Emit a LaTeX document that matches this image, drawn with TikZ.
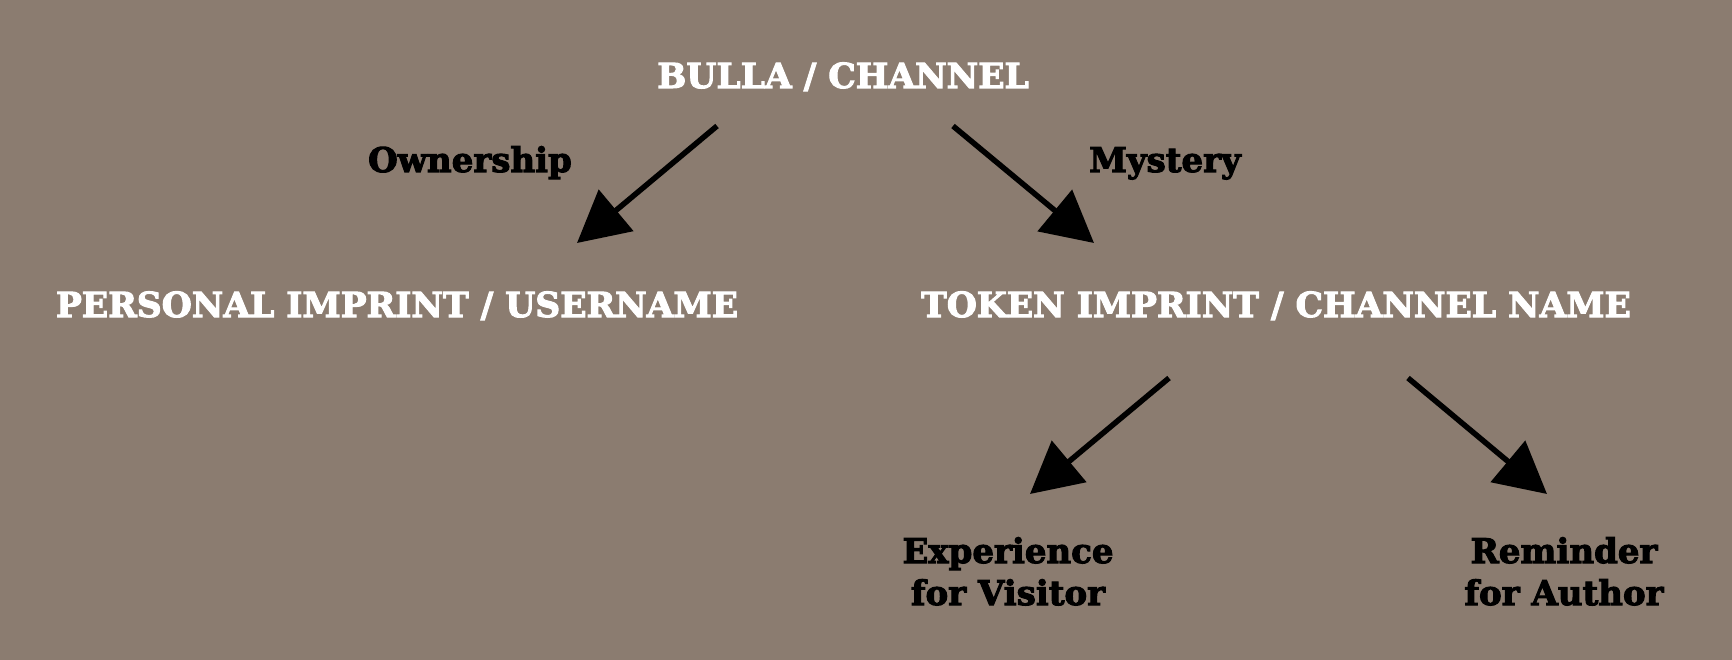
\documentclass[tikz,border=0pt]{standalone}
\usepackage{fontspec}
\setmainfont{DejaVu Serif}
\newfontfamily\heavyfont{DejaVu Serif Bold}[FakeBold=3]
\usetikzlibrary{arrows.meta}
\definecolor{bg}{RGB}{139,124,112}
\tikzset{
  whitelbl/.style={text=white, font=\fontsize{34.5}{40}\selectfont\heavyfont, inner sep=0pt, anchor=base},
  blacklbl/.style={text=black, font=\fontsize{34}{42}\selectfont\heavyfont, inner sep=0pt, anchor=base},
  blackpair/.style={text=black, font=\fontsize{34}{42}\selectfont\heavyfont, inner sep=0pt, align=center, anchor=north},
  bigarrow/.style={line width=5.5pt, -{Triangle[length=51pt,width=53pt]}},
}
\begin{document}
\begin{tikzpicture}[x=1pt,y=-1pt]
\fill[bg] (0,0) rectangle (1732,660);
\useasboundingbox (0,0) rectangle (1732,660);
\node[whitelbl] (bulla) at (843,88) {BULLA / CHANNEL};
\node[blacklbl] (own) at (470,172) {Ownership};
\node[blacklbl] (mys) at (1165,172) {Mystery};
\node[whitelbl] (pers) at (397,317) {PERSONAL IMPRINT / USERNAME};
\node[whitelbl] (tok) at (1276,317) {TOKEN IMPRINT / CHANNEL NAME};
\node[blackpair] (exp) at (1008,537) {Experience\\for Visitor};
\node[blackpair] (rem) at (1564,537) {Reminder\\for Author};
\coordinate (a1s) at (717,126);
\coordinate (a1e) at (577,243);
\coordinate (a2s) at (953,126);
\coordinate (a2e) at (1094,243);
\coordinate (a3s) at (1169,378);
\coordinate (a3e) at (1030,494);
\coordinate (a4s) at (1408,378);
\coordinate (a4e) at (1547,494);
\draw[bigarrow] (a1s) -- (a1e);
\draw[bigarrow] (a2s) -- (a2e);
\draw[bigarrow] (a3s) -- (a3e);
\draw[bigarrow] (a4s) -- (a4e);
\end{tikzpicture}
\end{document}
